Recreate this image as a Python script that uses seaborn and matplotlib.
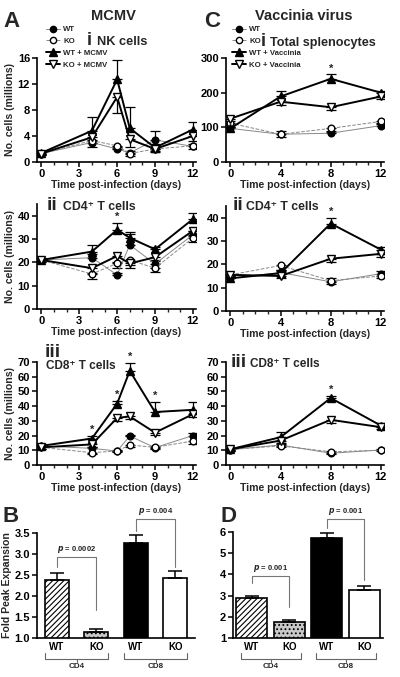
import matplotlib
matplotlib.use("Agg")
import matplotlib.pyplot as plt
import matplotlib.transforms as mtransforms
from matplotlib.lines import Line2D
from matplotlib.ticker import MultipleLocator, FormatStrFormatter
import pandas as pd
import seaborn as sns

sns.set_theme(style="ticks")
plt.rcParams["font.family"] = ["Liberation Sans", "DejaVu Sans"]
plt.rcParams["font.weight"] = "bold"
plt.rcParams["hatch.linewidth"] = 0.8

# ---------------------------------------------------------------------------
# Data
# ---------------------------------------------------------------------------
days_mcmv = [0, 4, 6, 7, 9, 12]
days_vacc = [0, 4, 8, 12]

# MCMV - NK cells
nk_wt = [1.3, 3.0, 2.0, 1.4, 3.4, 2.4]
nk_ko = [1.3, 3.3, 2.5, 1.3, 2.0, 2.5]
nk_wt_inf = [1.4, 4.8, 12.7, 5.2, 2.2, 5.0]
nk_ko_inf = [1.3, 3.8, 10.0, 3.5, 2.0, 4.0]
nk_wt_err = [0.2, 0.4, 0.3, 0.3, 1.3, 0.4]
nk_ko_err = [0.2, 1.0, 0.3, 0.3, 0.3, 0.5]
nk_wt_inf_err = [0.3, 2.1, 3.0, 3.3, 0.5, 1.2]
nk_ko_inf_err = [0.2, 0.8, 2.5, 1.2, 0.4, 0.8]

# MCMV - CD4 T cells
cd4m_wt = [21, 22, 14.6, 27.5, 19.3, 31.8]
cd4m_ko = [21, 15, 19.6, 21, 17.5, 30.4]
cd4m_wt_inf = [21, 24.6, 34.0, 30.5, 25.6, 38.5]
cd4m_ko_inf = [21, 17.5, 22.7, 19.5, 22.2, 33.5]
cd4m_wt_err = [1, 1.5, 1, 4.5, 1.5, 1.5]
cd4m_ko_err = [1, 2, 2, 2, 1.5, 1.5]
cd4m_wt_inf_err = [1, 2.9, 2.8, 2.7, 1, 2.8]
cd4m_ko_inf_err = [1, 2, 2.5, 2, 1.5, 2]

# MCMV - CD8 T cells
cd8m_wt = [13, 11.3, 9.5, 19.7, 11.8, 20]
cd8m_ko = [12, 8.4, 9.5, 13.6, 12, 16.3]
cd8m_wt_inf = [13, 18, 41.7, 64, 36, 37.5]
cd8m_ko_inf = [12, 14, 32, 33, 22, 34.5]
cd8m_wt_err = [1, 1, 1, 1, 1, 1.5]
cd8m_ko_err = [1, 1, 1, 1.5, 1, 2]
cd8m_wt_inf_err = [1.5, 1.5, 1.5, 5.5, 6.5, 5]
cd8m_ko_inf_err = [1, 1.5, 2, 2, 1.5, 2]

# Vaccinia - total splenocytes
tot_wt = [97, 80, 83, 105]
tot_ko = [112, 80, 97, 117]
tot_wt_inf = [97, 189, 240, 200]
tot_ko_inf = [125, 174, 158, 189]
tot_wt_err = [5, 10, 6, 5]
tot_ko_err = [5, 8, 10, 5]
tot_wt_inf_err = [5, 16, 14, 6]
tot_ko_inf_err = [8, 10, 8, 8]

# Vaccinia - CD4 T cells
cd4v_wt = [14, 16.5, 12.5, 16]
cd4v_ko = [15.5, 19.5, 13, 15]
cd4v_wt_inf = [14, 16.2, 37.5, 26.3]
cd4v_ko_inf = [15.5, 15, 22.4, 24.5]
cd4v_wt_err = [1, 1, 1.8, 1]
cd4v_ko_err = [1, 2.5, 1.5, 1]
cd4v_wt_inf_err = [1, 1.2, 2.2, 1]
cd4v_ko_inf_err = [1, 1, 1.5, 1.5]

# Vaccinia - CD8 T cells
cd8v_wt = [10.5, 13.6, 8, 10.2]
cd8v_ko = [10.5, 13, 9, 10]
cd8v_wt_inf = [10.7, 18.9, 45.5, 26.8]
cd8v_ko_inf = [10.7, 16.6, 30.7, 25.7]
cd8v_wt_err = [0.8, 1, 1.5, 0.8]
cd8v_ko_err = [0.8, 1, 1.5, 0.8]
cd8v_wt_inf_err = [1, 3.8, 1.5, 1.5]
cd8v_ko_inf_err = [1, 1.5, 2, 1.5]

# Fold peak expansion
bar_groups = ["CD4 WT", "CD4 KO", "CD8 WT", "CD8 KO"]
bar_ticklabels = ["WT", "KO", "WT", "KO"]
mcmv_fold = [2.38, 1.15, 3.27, 2.42]
mcmv_fold_err = [0.17, 0.06, 0.18, 0.18]
vacc_fold = [2.88, 1.75, 5.72, 3.28]
vacc_fold_err = [0.12, 0.12, 0.25, 0.18]

# ---------------------------------------------------------------------------
W, H = 400, 677
fig = plt.figure(figsize=(W / 100, H / 100), dpi=100)


def box(left, top, right, bottom):
    return [left / W, 1 - bottom / H, (right - left) / W, (bottom - top) / H]


def ftext(x, y, s, **kw):
    fig.text(x / W, 1 - y / H, s, **kw)


def style_axes(ax, lw=1.2):
    sns.despine(ax=ax)
    for sp in ("left", "bottom"):
        ax.spines[sp].set_linewidth(lw)
        ax.spines[sp].set_color("black")
    ax.tick_params(which="major", length=3.5, width=1.1, labelsize=8,
                   colors="black", pad=1.5)
    ax.tick_params(which="minor", length=2.2, width=1.0)
    for lab in ax.get_xticklabels() + ax.get_yticklabels():
        lab.set_fontweight("bold")


def line_panel(ax, days, wt, ko, wt_inf, ko_inf, errs, ylim, ystep, xmajor):
    wt_err, ko_err, wt_inf_err, ko_inf_err = errs
    series = [
        (wt, wt_err, "o", "black", "#888888", 0.7, "-", 1),
        (ko, ko_err, "o", "white", "#888888", 0.7, "--", -1),
        (wt_inf, wt_inf_err, "^", "black", "black", 1.4, "-", 1),
        (ko_inf, ko_inf_err, "v", "white", "black", 1.4, "-", -1),
    ]
    for vals, err, mk, fc, lc, lw, ls, sgn in series:
        zeros = [0] * len(err)
        yerr = [zeros, err] if sgn > 0 else [err, zeros]
        ax.errorbar(days, vals, yerr=yerr, fmt="none", ecolor="black",
                    elinewidth=0.9, capsize=3.5, capthick=0.9, zorder=2)
        sns.lineplot(x=days, y=vals, ax=ax, color=lc, lw=lw, ls=ls,
                     marker=mk, markersize=5.5 if mk != "o" else 4.8,
                     markerfacecolor=fc, markeredgecolor="black",
                     markeredgewidth=1.0, zorder=3)
    ax.set_xlim(-0.35, 12.25)
    ax.set_ylim(*ylim)
    ax.set_xticks(range(0, 13, xmajor))
    ax.xaxis.set_minor_locator(MultipleLocator(1))
    ax.yaxis.set_major_locator(MultipleLocator(ystep))
    ax.set_xlabel("Time post-infection (days)", fontsize=7.6,
                  fontweight="bold", labelpad=1)
    ax.set_ylabel("")
    style_axes(ax)


# ---- line panels ----------------------------------------------------------
axAi = fig.add_axes(box(37, 58, 196, 162))
line_panel(axAi, days_mcmv, nk_wt, nk_ko, nk_wt_inf, nk_ko_inf,
           (nk_wt_err, nk_ko_err, nk_wt_inf_err, nk_ko_inf_err), (0, 16), 4, 3)
axAii = fig.add_axes(box(37, 204, 196, 309))
line_panel(axAii, days_mcmv, cd4m_wt, cd4m_ko, cd4m_wt_inf, cd4m_ko_inf,
           (cd4m_wt_err, cd4m_ko_err, cd4m_wt_inf_err, cd4m_ko_inf_err), (0, 45), 10, 3)
axAiii = fig.add_axes(box(37, 362, 196, 465))
line_panel(axAiii, days_mcmv, cd8m_wt, cd8m_ko, cd8m_wt_inf, cd8m_ko_inf,
           (cd8m_wt_err, cd8m_ko_err, cd8m_wt_inf_err, cd8m_ko_inf_err), (0, 70), 10, 3)

axCi = fig.add_axes(box(226, 58, 384, 162))
line_panel(axCi, days_vacc, tot_wt, tot_ko, tot_wt_inf, tot_ko_inf,
           (tot_wt_err, tot_ko_err, tot_wt_inf_err, tot_ko_inf_err), (0, 300), 100, 4)
axCii = fig.add_axes(box(226, 206, 384, 311))
line_panel(axCii, days_vacc, cd4v_wt, cd4v_ko, cd4v_wt_inf, cd4v_ko_inf,
           (cd4v_wt_err, cd4v_ko_err, cd4v_wt_inf_err, cd4v_ko_inf_err), (0, 45), 10, 4)
axCiii = fig.add_axes(box(226, 362, 384, 465))
line_panel(axCiii, days_vacc, cd8v_wt, cd8v_ko, cd8v_wt_inf, cd8v_ko_inf,
           (cd8v_wt_err, cd8v_ko_err, cd8v_wt_inf_err, cd8v_ko_inf_err), (0, 70), 10, 4)

for ax in (axAi, axAii, axAiii):
    ax.set_ylabel("No. cells (millions)", fontsize=7.6, fontweight="bold", labelpad=2)

# significance stars
star_kw = dict(ha="center", va="bottom", fontsize=8, fontweight="bold")
axAii.text(6, 37.5, "*", **star_kw)
for d, y in [(4, 20.5), (6, 44), (7, 70), (9, 43.5)]:
    axAiii.text(d, y, "*", **star_kw)
axCi.text(8, 255, "*", **star_kw)
axCii.text(8, 40.5, "*", **star_kw)
axCiii.text(8, 47.5, "*", **star_kw)


# ---- legends -------------------------------------------------------------
def legend_handles():
    return [
        Line2D([], [], color="#888888", lw=0.7, marker="o", ms=4.5,
               mfc="black", mec="black"),
        Line2D([], [], color="#888888", lw=0.7, ls="--", marker="o", ms=4.5,
               mfc="white", mec="black"),
        Line2D([], [], color="black", lw=1.4, marker="^", ms=5.5,
               mfc="black", mec="black"),
        Line2D([], [], color="black", lw=1.4, marker="v", ms=5.5,
               mfc="white", mec="black"),
    ]


for x0, virus in [(46, "MCMV"), (232, "Vaccinia")]:
    fig.legend(legend_handles(),
               ["WT", "KO", f"WT + {virus}", f"KO + {virus}"],
               loc="upper left", bbox_to_anchor=(x0 / W, 1 - 26 / H),
               frameon=False, handlelength=1.8, handletextpad=0.4,
               labelspacing=0.55, borderpad=0, borderaxespad=0,
               prop={"size": 5.6, "weight": "bold"})

# ---- titles / labels -------------------------------------------------------
ftext(3, 27, "A", fontsize=16, fontweight="bold", va="baseline")
ftext(204, 27, "C", fontsize=16, fontweight="bold", va="baseline")
ftext(113, 16, "MCMV", fontsize=10.5, fontweight="bold", ha="center", va="center")
ftext(304, 16, "Vaccinia virus", fontsize=10.5, fontweight="bold", ha="center", va="center")

ftext(87, 45, "i", fontsize=13, fontweight="bold", va="baseline")
ftext(97, 45, "NK cells", fontsize=9.2, fontweight="bold", va="baseline")
ftext(261, 46, "i", fontsize=13, fontweight="bold", va="baseline")
ftext(270, 46, "Total splenocytes", fontsize=9.1, fontweight="bold", va="baseline")

ftext(47, 210, "ii", fontsize=14, fontweight="bold", va="baseline")
ftext(63, 210, "CD4\u207a T cells", fontsize=8.8, fontweight="bold", va="baseline")
ftext(233, 210, "ii", fontsize=14, fontweight="bold", va="baseline")
ftext(246, 210, "CD4\u207a T cells", fontsize=8.8, fontweight="bold", va="baseline")

ftext(45, 357, "iii", fontsize=14, fontweight="bold", va="baseline")
ftext(46, 369, "CD8\u207a T cells", fontsize=8.5, fontweight="bold", va="baseline")
ftext(231, 367, "iii", fontsize=14, fontweight="bold", va="baseline")
ftext(250, 367, "CD8\u207a T cells", fontsize=8.5, fontweight="bold", va="baseline")

ftext(3, 522, "B", fontsize=16, fontweight="bold", va="baseline")
ftext(221, 522, "D", fontsize=16, fontweight="bold", va="baseline")


# ---- bar panels ------------------------------------------------------------
def bar_panel(ax, vals, errs, ylim, ystep, width, brackets):
    df = pd.DataFrame({"group": bar_groups, "fold": vals})
    sns.barplot(data=df, x="group", y="fold", ax=ax, width=width,
                palette=["white", "#c8c8c8", "black", "white"], hue="group",
                legend=False, edgecolor="black", linewidth=1.2, zorder=2)
    for p, h in zip(ax.patches, ["//////", "....", "", ""]):
        p.set_hatch(h)
    ax.errorbar(range(len(vals)), vals, yerr=[[0] * len(errs), errs],
                fmt="none", ecolor="black", elinewidth=1.1, capsize=5,
                capthick=1.1, zorder=3)
    ax.set_ylim(*ylim)
    ax.set_xlim(-0.5, 3.5)
    ax.yaxis.set_major_locator(MultipleLocator(ystep))
    ax.set_xlabel("")
    style_axes(ax)
    ax.tick_params(axis="x", length=0, pad=3, labelsize=7)
    ax.set_xticks(range(4))
    ax.set_xticklabels(bar_ticklabels, fontweight="bold", fontsize=7)
    # p-value brackets
    for (i, j, yl, yr, ytop, label) in brackets:
        ax.plot([i, i, j, j], [yl, ytop, ytop, yr], color="#777777", lw=0.8,
                clip_on=False, zorder=4)
        ax.text((i + j) / 2, ytop + (ylim[1] - ylim[0]) * 0.02,
                f"$\\it{{p}}$ = {label}", ha="center", va="bottom",
                fontsize=5.5, fontweight="bold", clip_on=False)
    # group brackets under axis
    tr = mtransforms.blended_transform_factory(ax.transData, ax.transAxes)
    for i, j, name in [(0, 1, "CD4"), (2, 3, "CD8")]:
        a, b = i - 0.3, j + 0.3
        ax.plot([a, a, b, b], [-0.14, -0.2, -0.2, -0.14], transform=tr,
                color="#666666", lw=0.8, clip_on=False)
        ax.plot([(a + b) / 2] * 2, [-0.2, -0.225], transform=tr,
                color="#666666", lw=0.8, clip_on=False)
        ax.text((a + b) / 2, -0.24, name, transform=tr, ha="center", va="top",
                fontsize=5.8, fontweight="bold")


axB = fig.add_axes(box(37, 533, 195, 638))
bar_panel(axB, mcmv_fold, mcmv_fold_err, (1.0, 3.5), 0.5, 0.6,
          [(0, 1, 2.69, 1.67, 2.92, "0.0002"), (2, 3, 3.55, 2.7, 3.83, "0.004")])
axB.set_ylabel("Fold Peak Expansion", fontsize=7.6, fontweight="bold", labelpad=2)
axB.yaxis.set_major_formatter(FormatStrFormatter("%.1f"))
for lab in axB.get_yticklabels():
    lab.set_fontweight("bold")

axD = fig.add_axes(box(233, 532, 383, 638))
bar_panel(axD, vacc_fold, vacc_fold_err, (1, 6), 1, 0.82,
          [(0, 1, 3.58, 2.48, 3.92, "0.001"), (2, 3, 6.17, 3.74, 6.6, "0.001")])
axD.set_ylabel("")

fig.savefig("out.png", dpi=100)
